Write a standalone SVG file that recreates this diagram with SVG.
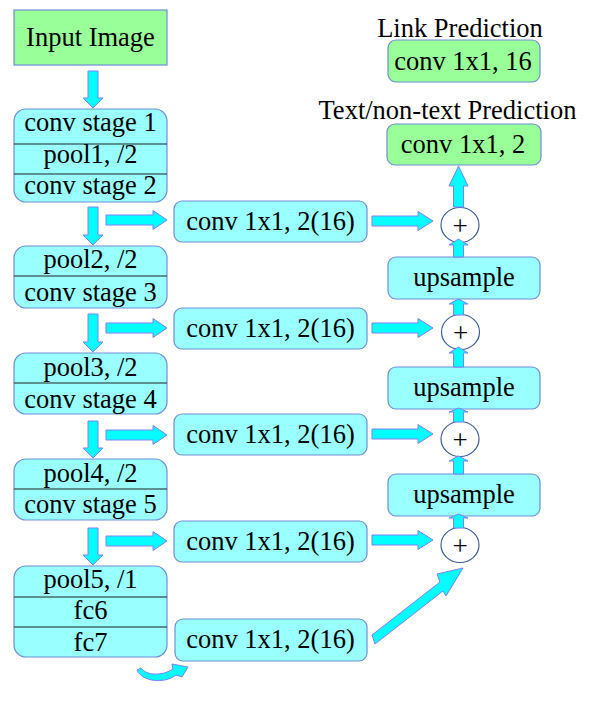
<svg xmlns="http://www.w3.org/2000/svg" width="607" height="701" viewBox="0 0 607 701" font-family="'Liberation Serif', 'Times New Roman', Tinos, 'DejaVu Serif', serif">
<style>
text{font-family:'Liberation Serif','Times New Roman',Tinos,'DejaVu Serif',serif;font-size:26.5px;fill:#000;text-anchor:middle}
.box{fill:#99ffff;stroke:#6f8fd8;stroke-width:1.2}
.green{fill:#99ff99;stroke:#6f8fd8;stroke-width:1.2}
.div{stroke:#222;stroke-width:1.2}
.arr{fill:#00ffff;stroke:#8080ff;stroke-width:1}
.plus{fill:#fff;stroke:#3d5f9f;stroke-width:1.2}
text.ps{font-size:27px}
</style>
<rect width="607" height="701" fill="#fff"/>

<g id="labels">
<text x="460" y="37">Link Prediction</text>
<text x="447.5" y="119">Text/non-text Prediction</text>
</g>

<g id="input">
<rect class="green" x="14" y="10" width="153" height="55"/>
<text x="90.5" y="46">Input Image</text>
</g>

<g id="stage12">
<rect class="box" x="14" y="109" width="153" height="93" rx="12"/>
<line class="div" x1="14" y1="144" x2="167" y2="144"/>
<line class="div" x1="14" y1="174" x2="167" y2="174"/>
<text x="90.5" y="131">conv stage 1</text>
<text x="90.5" y="163">pool1, /2</text>
<text x="90.5" y="194">conv stage 2</text>
</g>

<g id="stage3">
<rect class="box" x="14" y="246" width="153" height="62" rx="12"/>
<line class="div" x1="14" y1="276" x2="167" y2="276"/>
<text x="90.5" y="268">pool2, /2</text>
<text x="90.5" y="301">conv stage 3</text>
</g>

<g id="stage4">
<rect class="box" x="14" y="353" width="153" height="61" rx="12"/>
<line class="div" x1="14" y1="383" x2="167" y2="383"/>
<text x="90.5" y="376">pool3, /2</text>
<text x="90.5" y="408">conv stage 4</text>
</g>

<g id="stage5">
<rect class="box" x="14" y="459" width="153" height="61" rx="12"/>
<line class="div" x1="14" y1="489" x2="167" y2="489"/>
<text x="90.5" y="482">pool4, /2</text>
<text x="90.5" y="513">conv stage 5</text>
</g>

<g id="fc">
<rect class="box" x="14" y="566" width="153" height="91" rx="12"/>
<line class="div" x1="14" y1="597" x2="167" y2="597"/>
<line class="div" x1="14" y1="627" x2="167" y2="627"/>
<text x="90.5" y="588">pool5, /1</text>
<text x="90.5" y="619">fc6</text>
<text x="90.5" y="651">fc7</text>
</g>

<g id="conv1"><rect class="box" x="174" y="201" width="193" height="41" rx="8"/><text x="270.5" y="230">conv 1x1, 2(16)</text></g>
<g id="conv2"><rect class="box" x="174" y="308" width="193" height="41" rx="8"/><text x="270.5" y="337">conv 1x1, 2(16)</text></g>
<g id="conv3"><rect class="box" x="174" y="414" width="193" height="41" rx="8"/><text x="270.5" y="443">conv 1x1, 2(16)</text></g>
<g id="conv4"><rect class="box" x="174" y="521" width="193" height="41" rx="8"/><text x="270.5" y="550">conv 1x1, 2(16)</text></g>
<g id="conv5"><rect class="box" x="175" y="619" width="192" height="42" rx="8"/><text x="270.5" y="648">conv 1x1, 2(16)</text></g>

<g id="link"><rect class="green" x="388" y="40" width="152" height="42" rx="8"/><text x="463" y="70">conv 1x1, 16</text></g>
<g id="textpred"><rect class="green" x="387" y="124" width="154" height="41" rx="8"/><text x="463" y="153">conv 1x1, 2</text></g>

<g id="up1"><rect class="box" x="388" y="257" width="152" height="42" rx="8"/><text x="464" y="286">upsample</text></g>
<g id="up2"><rect class="box" x="388" y="367" width="152" height="42" rx="8"/><text x="464" y="396">upsample</text></g>
<g id="up3"><rect class="box" x="388" y="474" width="152" height="42" rx="8"/><text x="464" y="503">upsample</text></g>

<g id="plus1"><ellipse class="plus" cx="460" cy="225" rx="19" ry="17.5"/><text class="ps" x="460" y="235">+</text></g>
<g id="plus2"><ellipse class="plus" cx="460.5" cy="332" rx="19" ry="17.5"/><text class="ps" x="460.5" y="342">+</text></g>
<g id="plus3"><ellipse class="plus" cx="460" cy="439" rx="19" ry="17.5"/><text class="ps" x="460" y="449">+</text></g>
<g id="plus4"><ellipse class="plus" cx="460" cy="545" rx="19" ry="17.5"/><text class="ps" x="460" y="555">+</text></g>

<g id="connectors">
<polygon class="arr" points="88,71 98,71 98,98 103,98 93,108 83,98 88,98"/>
<polygon class="arr" points="88,207 98,207 98,235 103,235 93,245 83,235 88,235"/>
<polygon class="arr" points="88,314 98,314 98,342 103,342 93,352 83,342 88,342"/>
<polygon class="arr" points="88,421 98,421 98,448 103,448 93,458 83,448 88,448"/>
<polygon class="arr" points="88,528 98,528 98,555 103,555 93,565 83,555 88,555"/>
<polygon class="arr" points="106,215 153,215 153,210.5 167,220 153,229.5 153,225 106,225"/>
<polygon class="arr" points="106,323 153,323 153,318.5 167,328 153,337.5 153,333 106,333"/>
<polygon class="arr" points="106,430 153,430 153,425.5 167,435 153,444.5 153,440 106,440"/>
<polygon class="arr" points="106,536 153,536 153,531.5 167,541 153,550.5 153,546 106,546"/>
<polygon class="arr" points="372,216 418,216 418,211.5 433,221 418,230.5 418,226 372,226"/>
<polygon class="arr" points="372,323 418,323 418,318.5 433,328 418,337.5 418,333 372,333"/>
<polygon class="arr" points="372,429 418,429 418,424.5 433,434 418,443.5 418,439 372,439"/>
<polygon class="arr" points="372,535 418,535 418,530.5 433,540 418,549.5 418,545 372,545"/>
<polygon class="arr" points="453.5,207 463.5,207 463.5,186 468,186 458.5,166 449,186 453.5,186"/>
<polygon class="arr" points="453.5,257 463.5,257 463.5,245 468,245 458.5,239 449,245 453.5,245"/>
<polygon class="arr" points="453.5,315 463.5,315 463.5,304 468,304 458.5,299 449,304 453.5,304"/>
<polygon class="arr" points="453.5,367 463.5,367 463.5,353 468,353 458.5,347 449,353 453.5,353"/>
<polygon class="arr" points="453.5,422 463.5,422 463.5,412 468,412 458.5,408 449,412 453.5,412"/>
<polygon class="arr" points="453.5,474 463.5,474 463.5,461 468,461 458.5,456 449,461 453.5,461"/>
<polygon class="arr" points="453.5,528 463.5,528 463.5,518 468,518 458.5,514 449,518 453.5,518"/>
<polygon class="arr" points="372,635 440,582 437,574 463,568 446,596 443,591 375,644"/>
<path class="arr" d="M137,670 C142,682 165,684 176,675 L182,677 L188,667 L172,664 L173,669 C163,676 146,676 141,668 Z"/>
</g>
</svg>
